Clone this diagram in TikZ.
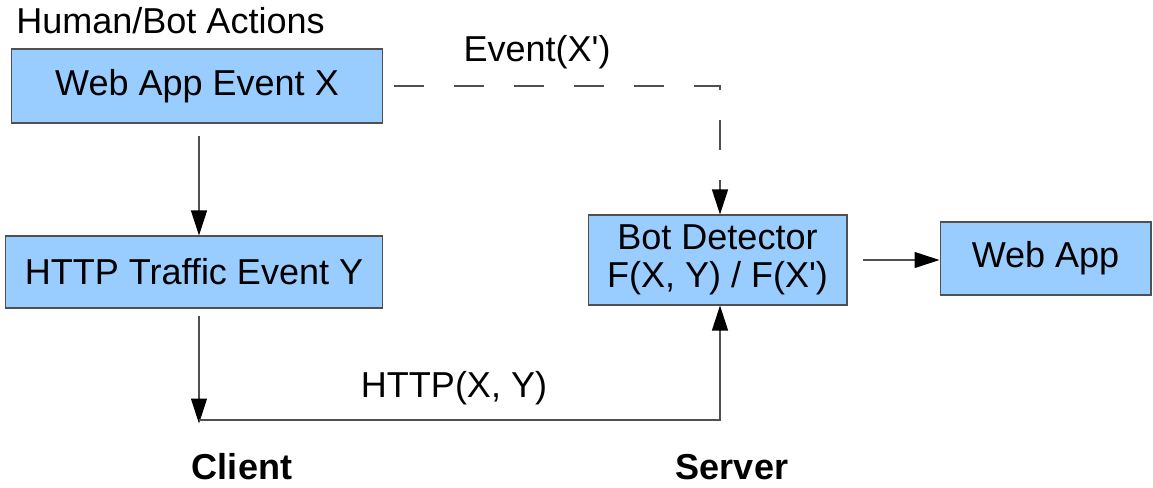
\documentclass[tikz,border=0pt]{standalone}
\usepackage{fontspec}
\setmainfont{Liberation Sans}
\usepackage{xcolor}
\usetikzlibrary{arrows.meta,positioning}
\definecolor{boxblue}{HTML}{99CCFF}
\definecolor{edgegray}{HTML}{505050}
\newcommand{\apos}{\textquotesingle}

\begin{document}
\begin{tikzpicture}[x=0.02cm, y=-0.02cm, font=\fontsize{20.5}{21.5}\selectfont, box/.style={draw=edgegray, fill=boxblue, line width=0.6pt, align=center, inner sep=0pt}, arr/.style={-{Triangle[length=0.5cm, width=0.32cm, color=black, fill=black]}, draw=edgegray, line width=0.6pt}, lbl/.style={inner sep=0pt}]
\useasboundingbox (0,0) rectangle (1153,487);
\node[lbl, anchor=base west] (title) at (16,33) {Human/Bot Actions};
\node[box, minimum width=7.44cm, minimum height=1.48cm] (webx) at (197,86) {Web App Event X};
\node[box, minimum width=7.56cm, minimum height=1.44cm] (traffic) at (194,272) {HTTP Traffic Event Y};
\node[box, minimum width=5.18cm, minimum height=1.8cm] (detector) at (717.5,260) {Bot Detector\\F(X, Y) / F(X\apos)};
\node[box, minimum width=4.22cm, minimum height=1.46cm] (webapp) at (1045.5,258.5) {Web App};
\node[lbl] (evlabel) at (537,52) {Event(X\apos)};
\node[lbl] (httplabel) at (454,388) {HTTP(X, Y)};
\node[lbl, font=\fontsize{20.5}{21.5}\selectfont\bfseries] (client) at (242,467) {Client};
\node[lbl, font=\fontsize{20.5}{21.5}\selectfont\bfseries] (server) at (732,467) {Server};
\coordinate (dcorner) at (720,86);
\coordinate (ccorner) at (199,420);
\coordinate (scorner) at (720,420);
% event path
\draw[arr, shorten <=7pt] (ccorner |- webx.south) -- (ccorner |- traffic.north);
\draw[arr, dash pattern=on 0.6cm off 0.6cm] ([xshift=0.22cm]webx.east) -- (dcorner) -- (dcorner |- detector.north);
% request path
\draw[arr, shorten <=4pt] (ccorner |- traffic.south) -- ([yshift=-2pt]ccorner);
\draw[arr] (ccorner) -- (scorner) -- (scorner |- detector.south);
\draw[arr, shorten <=0.3cm] (detector.east) -- (detector.east -| webapp.west);
\end{tikzpicture}
\end{document}
